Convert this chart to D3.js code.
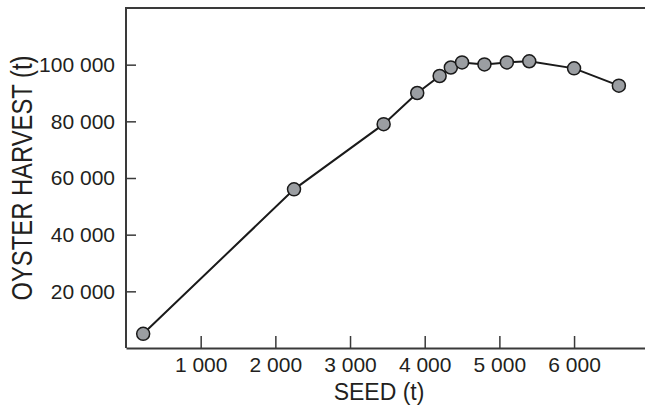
<!DOCTYPE html>
<html><head><meta charset="utf-8">
<script src="https://cdn.jsdelivr.net/npm/d3@7"></script>
<style>body{margin:0;background:#fff}svg{display:block}text{font-family:"Liberation Sans",Arial,sans-serif;fill:#231f20}</style>
</head><body><svg id="c" width="645" height="408"></svg>
<script>
const seed = [230, 2250, 3450, 3900, 4200, 4350, 4500, 4800, 5100, 5400, 6000, 6600];
const harvest = [5000, 56000, 79000, 90000, 96000, 99000, 100800, 100100, 100800, 101200, 98700, 92600];
const xTicks = [1000, 2000, 3000, 4000, 5000, 6000];
const yTicks = [20000, 40000, 60000, 80000, 100000];
const xTitle = "SEED (t)";
const yTitle = "OYSTER HARVEST (t)";

(function () {
const svg = d3.select("#c");
const pl = 126, pr = 645, pt = 8, pb = 348;
const narrow = '"Liberation Sans Narrow","DejaVu Sans Condensed","Liberation Sans",sans-serif';
const x = d3.scaleLinear().domain([0, 6950]).range([pl, pr]);
const y = d3.scaleLinear().domain([0, 120000]).range([pb, pt]);
const fmt = v => d3.format(",")(v).replace(/,/g, " ");

svg.append("path").attr("d", `M${pr},${pt}H${pl}V${pb}`)
  .attr("fill", "none").attr("stroke", "#3a3a3a").attr("stroke-width", 2);

const xAxis = svg.append("g").attr("transform", `translate(0,${pb})`)
  .call(d3.axisBottom(x).tickValues(xTicks).tickSizeInner(-12).tickSizeOuter(0).tickPadding(9).tickFormat(fmt));
const yAxis = svg.append("g").attr("transform", `translate(${pl},0)`)
  .call(d3.axisLeft(y).tickValues(yTicks).tickSizeInner(-10).tickSizeOuter(0).tickPadding(11).tickFormat(fmt));
[xAxis, yAxis].forEach(g => {
  g.select(".domain").attr("stroke", "#3a3a3a").attr("stroke-width", 2);
  g.selectAll(".tick line").attr("stroke", "#3a3a3a").attr("stroke-width", 1.5);
  g.selectAll(".tick text").attr("font-size", 21)
    .attr("font-family", narrow).attr("fill", "#231f20");
});
yAxis.select(".domain").attr("d", `M0,${pt}V${pb}`);
xAxis.selectAll(".tick text").attr("dy", "0.71em");

svg.append("text").attr("x", 379).attr("y", 400).attr("text-anchor", "middle")
  .attr("font-size", 23).text(xTitle);
svg.append("text").attr("transform", "translate(32,178) rotate(-90)").attr("text-anchor", "middle")
  .attr("font-family", narrow).attr("font-size", 29).attr("textLength", 245).attr("lengthAdjust", "spacingAndGlyphs").text(yTitle);

const pts = seed.map((s, i) => [s, harvest[i]]);
svg.append("path").datum(pts).attr("fill", "none").attr("stroke", "#1a1a1a").attr("stroke-width", 2)
  .attr("d", d3.line().x(d => x(d[0])).y(d => y(d[1])));
svg.selectAll("circle.p").data(pts).join("circle").attr("class", "p")
  .attr("cx", d => x(d[0])).attr("cy", d => y(d[1])).attr("r", 6.5)
  .attr("fill", "#9b9ea2").attr("stroke", "#1a1a1a").attr("stroke-width", 1.5);
})();
</script></body></html>
